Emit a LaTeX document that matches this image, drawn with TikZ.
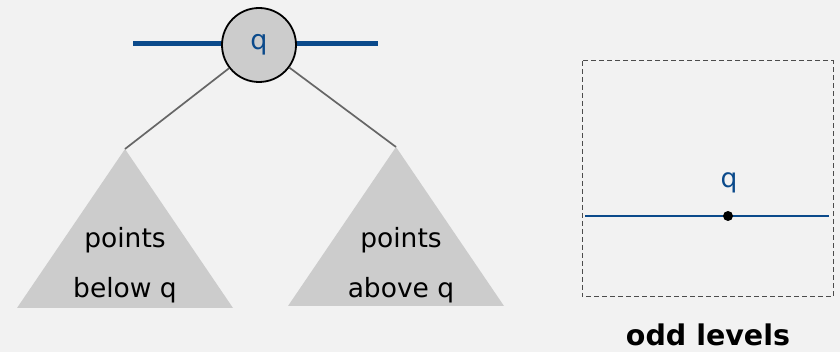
\documentclass[tikz,border=0pt]{standalone}
\usepackage{fontspec}
\setmainfont{DejaVu Sans}
\definecolor{qblue}{HTML}{0B4A8B}
\definecolor{subtree}{HTML}{CCCCCC}
\definecolor{backgr}{HTML}{F2F2F2}

\begin{document}
\begin{tikzpicture}[x=1pt,y=-1pt,
  qnode/.style={circle,draw=black,line width=1.8pt,fill=subtree,minimum size=74pt,inner sep=0pt,text=qblue,font=\fontsize{27}{30}\selectfont},
  edge/.style={draw=black!60,line width=1.7pt},
  split/.style={draw=qblue,line width=5pt},
  label/.style={anchor=base,inner sep=0pt,font=\fontsize{26.5}{30}\selectfont}]
\fill[backgr] (0,0) rectangle (840,352);
\coordinate (splitL) at (133,44);
\coordinate (splitR) at (378,44);
\coordinate (below) at (125,149);
\coordinate (above) at (396,147);
\draw[split] (splitL) -- (splitR);
\node[qnode] (root) at (259,45) {q};
\fill[subtree] (below) -- (17,308) -- (233,308) -- cycle;
\fill[subtree] (above) -- (288,306) -- (504,306) -- cycle;
\draw[edge] (root) -- (below);
\draw[edge] (root) -- (above);
\node[label] (b1) at (125,248) {points};
\node[label] (b2) at (125,298) {below q};
\node[label] (a1) at (401,248) {points};
\node[label] (a2) at (401,298) {above q};
\draw[black!70,line width=1pt,dash pattern=on 5pt off 3pt] (582,61) rectangle (833,297);
\coordinate (cutL) at (585,216);
\coordinate (cutR) at (829,216);
\draw[qblue,line width=1.8pt] (cutL) -- (cutR);
\node[circle,fill=black,inner sep=0pt,minimum size=10pt] (pt) at (728,216) {};
\node[label,text=qblue] (ptq) at (729,188) {q};
\node[label,font=\fontsize{28.5}{32}\selectfont\bfseries] (odd) at (708,345) {odd levels};
\end{tikzpicture}
\end{document}
